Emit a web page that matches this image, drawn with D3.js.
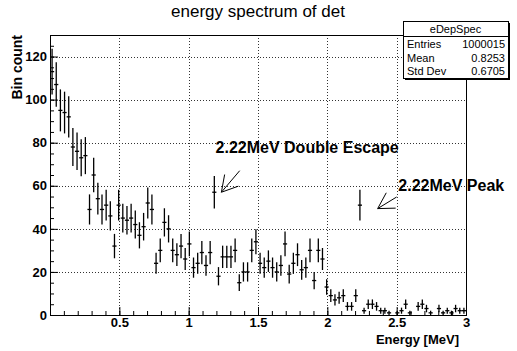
<!DOCTYPE html>
<html>
<head>
<meta charset="utf-8">
<script src="https://cdn.jsdelivr.net/npm/d3@7"></script>
<style>
  body { margin: 0; background: #fff; }
  svg { display: block; font-family: "Liberation Sans", Arial, sans-serif; }
</style>
</head>
<body>
<div id="chart"></div>
<script>
// histogram eDepSpec: 100 bins on [0, 3] MeV
const histRange = [0, 3];
const counts = [
  113, 107, 95, 94, 92, 78, 76, 73, 74, 49,
  65, 54, 49, 51, 46, 32, 51, 45, 44, 45,
  42, 37, 41, 52, 49, 24, 30, 43, 40, 30,
  28, 32, 26, 33, 22, 24, 29, 23, 29, 57,
  18, 27, 27, 27, 30, 15, 20, 20, 30, 34,
  24, 22, 25, 22, 20, 23, 33, 19, 24, 28,
  21, 22, 30, 16, 30, 26, 13, 9, 7, 8,
  9, 4, 4, 9, 51, 2, 5, 5, 4, 2,
  2, 1, 0, 1, 2, 5, 1, 0, 4, 5,
  3, 1, 0, 3, 1, 2, 1, 3, 2, 2
];

const xTicks = [0.5, 1, 1.5, 2, 2.5, 3];
const yTicks = [0, 20, 40, 60, 80, 100, 120];

const statsRows = [
  ["Entries", "1000015"],
  ["Mean", "0.8253"],
  ["Std Dev", "0.6705"]
];

// annotations: [label, x, y] and arrows [x start, y start, x tip, y tip] in data units
const labels = [
  ["2.22MeV Double Escape", 1.194, 75],
  ["2.22MeV Peak", 2.512, 57.5]
];
const arrows = [
  [1.368, 67, 1.236, 57],
  [2.50, 54.8, 2.363, 49.4]
];

const W = 517, H = 351;
const frame = { left: 50, right: 466, top: 35, bottom: 315 };

const svg = d3.select("#chart").append("svg")
  .attr("width", W)
  .attr("height", H);

svg.append("rect").attr("width", W).attr("height", H).attr("fill", "#fff");

const x = d3.scaleLinear().domain(histRange).range([frame.left, frame.right]);
const y = d3.scaleLinear().domain([0, 130]).range([frame.bottom, frame.top]);

const nBins = counts.length;
const bw = (histRange[1] - histRange[0]) / nBins;
const bins = counts.map((c, i) => ({
  x0: histRange[0] + i * bw,
  x1: histRange[0] + (i + 1) * bw,
  n: c
}));

// grid
const grid = svg.append("g")
  .attr("stroke", "#333")
  .attr("stroke-width", 1)
  .attr("stroke-dasharray", "1,2");
grid.selectAll(".gx")
  .data(xTicks.filter(d => d < 3))
  .join("line")
  .attr("x1", d => Math.round(x(d)) + 0.5)
  .attr("x2", d => Math.round(x(d)) + 0.5)
  .attr("y1", frame.top)
  .attr("y2", frame.bottom);
grid.selectAll(".gy")
  .data(yTicks.filter(d => d > 0))
  .join("line")
  .attr("x1", frame.left)
  .attr("x2", frame.right)
  .attr("y1", d => Math.round(y(d)) + 0.5)
  .attr("y2", d => Math.round(y(d)) + 0.5);

// axes
const xAxis = svg.append("g")
  .attr("transform", `translate(0,${frame.bottom})`)
  .call(d3.axisBottom(x).tickValues(d3.range(0, 3.001, 0.1)).tickSizeInner(-4).tickSizeOuter(0).tickFormat(""));
xAxis.select(".domain").remove();

const xMajor = svg.append("g")
  .attr("transform", `translate(0,${frame.bottom})`)
  .call(d3.axisBottom(x).tickValues(xTicks).tickSizeInner(-8).tickSizeOuter(0).tickPadding(3).tickFormat(d3.format("~g")));
xMajor.select(".domain").remove();
xMajor.selectAll("text")
  .style("font-size", "13px")
  .style("font-weight", "bold")
  .attr("fill", "#000");

const yMinor = svg.append("g")
  .attr("transform", `translate(${frame.left},0)`)
  .call(d3.axisLeft(y).tickValues(d3.range(0, 131, 5)).tickSizeInner(-4).tickSizeOuter(0).tickFormat(""));
yMinor.select(".domain").remove();

const yMajor = svg.append("g")
  .attr("transform", `translate(${frame.left},0)`)
  .call(d3.axisLeft(y).tickValues(yTicks).tickSizeInner(-8).tickSizeOuter(0).tickPadding(3));
yMajor.select(".domain").remove();
yMajor.selectAll("text")
  .style("font-size", "13px")
  .style("font-weight", "bold")
  .attr("fill", "#000");

// frame
svg.append("rect")
  .attr("x", frame.left + 0.5)
  .attr("y", frame.top + 0.5)
  .attr("width", frame.right - frame.left)
  .attr("height", frame.bottom - frame.top)
  .attr("fill", "none")
  .attr("stroke", "#000")
  .attr("stroke-width", 1);

// error bars
const pts = svg.append("g")
  .attr("stroke", "#000")
  .attr("stroke-width", 1.3);
const filled = bins.filter(d => d.n > 0);
pts.selectAll(".ev")
  .data(filled)
  .join("line")
  .attr("x1", d => x((d.x0 + d.x1) / 2))
  .attr("x2", d => x((d.x0 + d.x1) / 2))
  .attr("y1", d => y(Math.min(130, d.n + Math.sqrt(d.n))))
  .attr("y2", d => y(Math.max(0, d.n - Math.sqrt(d.n))));
pts.selectAll(".eh")
  .data(filled)
  .join("line")
  .attr("x1", d => x(d.x0))
  .attr("x2", d => x(d.x1))
  .attr("y1", d => y(d.n))
  .attr("y2", d => y(d.n));

// annotations
svg.selectAll(".lbl")
  .data(labels)
  .join("text")
  .attr("x", d => x(d[1]))
  .attr("y", d => y(d[2]))
  .style("font-size", "16px")
  .style("font-weight", "bold")
  .text(d => d[0]);

const headLen = 18, headAng = Math.PI / 6;
arrows.forEach(a => {
  const x1 = x(a[0]), y1 = y(a[1]), x2 = x(a[2]), y2 = y(a[3]);
  const ang = Math.atan2(y1 - y2, x1 - x2);
  const g = svg.append("g").attr("stroke", "#000").attr("stroke-width", 1);
  g.append("line").attr("x1", x1).attr("y1", y1).attr("x2", x2).attr("y2", y2);
  [-headAng, headAng].forEach(da => {
    g.append("line")
      .attr("x1", x2).attr("y1", y2)
      .attr("x2", x2 + headLen * Math.cos(ang + da))
      .attr("y2", y2 + headLen * Math.sin(ang + da));
  });
});

// title
svg.append("text")
  .attr("x", 258)
  .attr("y", 17)
  .attr("text-anchor", "middle")
  .style("font-size", "17px")
  .text("energy spectrum of det");

// axis titles
svg.append("text")
  .attr("x", 459)
  .attr("y", 344)
  .attr("text-anchor", "end")
  .style("font-size", "13px")
  .style("font-weight", "bold")
  .text("Energy [MeV]");

svg.append("text")
  .attr("transform", `translate(22,${frame.top}) rotate(-90)`)
  .attr("text-anchor", "end")
  .style("font-size", "14px")
  .style("font-weight", "bold")
  .text("Bin count");

// stats box
const sb = { x: 403, y: 21, w: 105, h: 57, head: 15 };
const stats = svg.append("g");
stats.append("rect")
  .attr("x", sb.x + 2).attr("y", sb.y + 2)
  .attr("width", sb.w).attr("height", sb.h)
  .attr("fill", "#000");
stats.append("rect")
  .attr("x", sb.x + 0.5).attr("y", sb.y + 0.5)
  .attr("width", sb.w).attr("height", sb.h)
  .attr("fill", "#fff")
  .attr("stroke", "#000");
stats.append("line")
  .attr("x1", sb.x).attr("x2", sb.x + sb.w)
  .attr("y1", sb.y + sb.head + 0.5).attr("y2", sb.y + sb.head + 0.5)
  .attr("stroke", "#000");
stats.append("text")
  .attr("x", sb.x + sb.w / 2)
  .attr("y", sb.y + 12)
  .attr("text-anchor", "middle")
  .style("font-size", "11px")
  .text("eDepSpec");
statsRows.forEach((r, i) => {
  const ty = sb.y + sb.head + 12 + i * 13.5;
  stats.append("text")
    .attr("x", sb.x + 4).attr("y", ty)
    .style("font-size", "11px")
    .text(r[0]);
  stats.append("text")
    .attr("x", sb.x + sb.w - 3).attr("y", ty)
    .attr("text-anchor", "end")
    .style("font-size", "11px")
    .text(r[1]);
});
</script>
</body>
</html>
